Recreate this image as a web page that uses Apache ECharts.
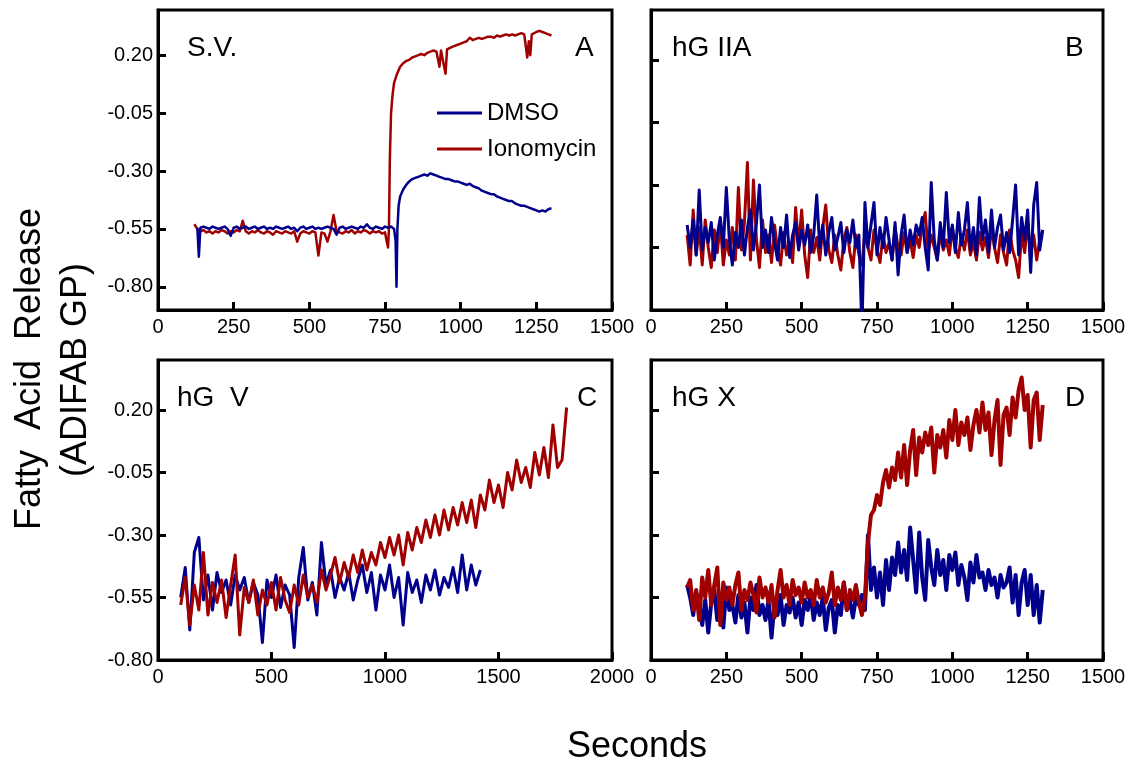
<!DOCTYPE html>
<html><head><meta charset="utf-8">
<script src="https://cdn.jsdelivr.net/npm/echarts@6/dist/echarts.min.js"></script>
<style>html,body{margin:0;padding:0;background:#fff}#c{width:1139px;height:770px}</style>
</head><body><div id="c"></div>
<script>
// ---------- DATA ----------
const yTicks = [-0.80, -0.55, -0.30, -0.05, 0.20];

// Panel A (S.V.)
const timeA_iono = [
120,130,140,150,160,170,180,190,200,210,
220,230,240,250,260,270,280,290,300,310,
320,330,340,350,360,370,380,390,400,410,
420,430,440,450,460,470,480,490,500,510,
520,530,540,550,560,570,580,590,600,610,
620,630,640,650,660,670,680,690,700,710,
720,730,740,750,755,760,763,766,770,775,
780,790,800,810,820,830,840,850,860,870,
880,890,900,910,920,930,935,940,950,955,
960,970,980,990,1000,1010,1020,1030,1040,1050,
1060,1070,1080,1090,1100,1110,1120,1130,1140,1150,
1160,1170,1180,1190,1200,1210,1220,1225,1230,1235,
1240,1250,1260,1270,1280,1290,1300];
const ionoA = [
-0.53,-0.55,-0.56,-0.555,-0.565,-0.56,-0.57,-0.56,-0.565,-0.555,
-0.56,-0.57,-0.56,-0.565,-0.555,-0.56,-0.515,-0.56,-0.57,-0.56,
-0.565,-0.555,-0.565,-0.57,-0.56,-0.565,-0.575,-0.56,-0.565,-0.57,
-0.56,-0.565,-0.57,-0.56,-0.605,-0.57,-0.56,-0.565,-0.57,-0.56,
-0.565,-0.665,-0.565,-0.57,-0.605,-0.56,-0.49,-0.56,-0.565,-0.57,
-0.56,-0.565,-0.555,-0.57,-0.56,-0.565,-0.555,-0.56,-0.57,-0.56,
-0.565,-0.56,-0.57,-0.565,-0.60,-0.63,-0.55,-0.25,-0.05,0.03,
0.08,0.12,0.15,0.165,0.175,0.18,0.19,0.195,0.20,0.205,
0.20,0.21,0.215,0.22,0.215,0.15,0.22,0.225,0.12,0.225,
0.23,0.235,0.24,0.245,0.25,0.255,0.26,0.275,0.265,0.27,
0.275,0.27,0.275,0.28,0.28,0.275,0.285,0.28,0.285,0.29,
0.285,0.29,0.285,0.29,0.295,0.29,0.19,0.26,0.20,0.29,
0.295,0.30,0.305,0.30,0.295,0.29,0.285];
const timeA_dmso = [
130,135,140,150,160,170,180,190,200,210,
220,230,240,250,260,270,280,290,300,310,
320,330,340,350,360,370,380,390,400,410,
420,430,440,450,460,470,480,490,500,510,
520,530,540,550,560,570,580,590,600,610,
620,630,640,650,660,670,680,690,700,710,
720,730,740,750,760,770,780,785,788,791,
795,800,810,820,830,840,850,860,870,880,
890,900,910,920,930,940,950,960,970,980,
990,1000,1010,1020,1030,1040,1050,1060,1070,1080,
1090,1100,1110,1120,1130,1140,1150,1160,1170,1180,
1190,1200,1210,1220,1230,1240,1250,1260,1270,1280,
1290,1300];
const dmsoA = [
-0.545,-0.67,-0.545,-0.54,-0.545,-0.55,-0.54,-0.545,-0.55,-0.545,
-0.54,-0.55,-0.58,-0.545,-0.54,-0.55,-0.545,-0.54,-0.55,-0.545,
-0.54,-0.55,-0.545,-0.54,-0.55,-0.545,-0.55,-0.54,-0.545,-0.55,
-0.545,-0.54,-0.55,-0.545,-0.56,-0.545,-0.54,-0.55,-0.545,-0.54,
-0.55,-0.545,-0.55,-0.545,-0.54,-0.545,-0.55,-0.575,-0.545,-0.54,
-0.55,-0.545,-0.54,-0.545,-0.55,-0.54,-0.545,-0.53,-0.545,-0.55,
-0.54,-0.545,-0.55,-0.54,-0.545,-0.54,-0.55,-0.60,-0.80,-0.55,
-0.45,-0.41,-0.38,-0.36,-0.345,-0.335,-0.33,-0.325,-0.32,-0.315,
-0.32,-0.31,-0.315,-0.32,-0.325,-0.33,-0.335,-0.335,-0.34,-0.345,
-0.345,-0.35,-0.355,-0.36,-0.355,-0.365,-0.37,-0.375,-0.385,-0.39,
-0.395,-0.40,-0.40,-0.41,-0.415,-0.42,-0.425,-0.43,-0.43,-0.44,
-0.445,-0.45,-0.45,-0.455,-0.46,-0.465,-0.47,-0.475,-0.47,-0.475,
-0.465,-0.46];

// Panels B and D share the sampling times
const timeBD = [
120,130,140,150,160,170,180,190,200,210,
220,230,240,250,260,270,280,290,300,310,
320,330,340,350,360,370,380,390,400,410,
420,430,440,450,460,470,480,490,500,510,
520,530,540,550,560,570,580,590,600,610,
620,630,640,650,660,670,680,690,700,710,
720,730,740,750,760,770,780,790,800,810,
820,830,840,850,860,870,880,890,900,910,
920,930,940,950,960,970,980,990,1000,1010,
1020,1030,1040,1050,1060,1070,1080,1090,1100,1110,
1120,1130,1140,1150,1160,1170,1180,1190,1200,1210,
1220,1230,1240,1250,1260,1270,1280,1290,1300];

// Panel B (hG IIA)
const ionoB = [
-0.50,-0.62,-0.40,-0.58,-0.47,-0.62,-0.44,-0.55,-0.63,-0.48,
-0.57,-0.45,-0.62,-0.52,-0.58,-0.47,-0.60,-0.31,-0.56,-0.45,
-0.21,-0.60,-0.28,-0.52,-0.63,-0.44,-0.57,-0.50,-0.61,-0.46,
-0.56,-0.62,-0.49,-0.58,-0.53,-0.61,-0.39,-0.55,-0.40,-0.58,
-0.67,-0.48,-0.57,-0.51,-0.60,-0.47,-0.38,-0.56,-0.61,-0.50,
-0.58,-0.64,-0.52,-0.47,-0.57,-0.63,-0.50,-0.58,-0.62,-0.49,
-0.55,-0.60,-0.48,-0.56,-0.61,-0.50,-0.57,-0.53,-0.60,-0.47,
-0.55,-0.58,-0.49,-0.57,-0.52,-0.59,-0.50,-0.55,-0.46,-0.41,
-0.57,-0.50,-0.55,-0.60,-0.49,-0.56,-0.52,-0.58,-0.47,-0.55,
-0.59,-0.50,-0.56,-0.48,-0.58,-0.53,-0.60,-0.49,-0.56,-0.51,
-0.59,-0.47,-0.55,-0.61,-0.50,-0.57,-0.62,-0.48,-0.56,-0.60,
-0.67,-0.49,-0.57,-0.45,-0.58,-0.50,-0.60,-0.52,-0.48];
const dmsoB = [
-0.46,-0.55,-0.44,-0.58,-0.32,-0.56,-0.47,-0.53,-0.45,-0.60,
-0.50,-0.43,-0.55,-0.31,-0.52,-0.62,-0.49,-0.55,-0.44,-0.58,
-0.47,-0.40,-0.56,-0.45,-0.30,-0.55,-0.48,-0.57,-0.43,-0.53,
-0.60,-0.47,-0.55,-0.42,-0.59,-0.50,-0.45,-0.56,-0.48,-0.54,
-0.46,-0.57,-0.50,-0.34,-0.55,-0.46,-0.58,-0.49,-0.43,-0.56,
-0.51,-0.45,-0.57,-0.48,-0.53,-0.44,-0.55,-0.50,-0.88,-0.37,
-0.55,-0.46,-0.37,-0.58,-0.47,-0.55,-0.43,-0.52,-0.60,-0.45,
-0.66,-0.50,-0.42,-0.57,-0.48,-0.54,-0.46,-0.50,-0.43,-0.55,
-0.64,-0.29,-0.52,-0.60,-0.45,-0.55,-0.33,-0.53,-0.46,-0.57,
-0.41,-0.54,-0.48,-0.37,-0.56,-0.47,-0.58,-0.35,-0.52,-0.44,
-0.57,-0.40,-0.55,-0.47,-0.42,-0.56,-0.49,-0.57,-0.44,-0.30,
-0.58,-0.43,-0.52,-0.40,-0.65,-0.38,-0.29,-0.56,-0.48];

// Panel C (hG V)
const timeC = [
100,120,140,160,180,200,220,240,260,280,
300,320,340,360,380,400,420,440,460,480,
500,520,540,560,580,600,620,640,660,680,
700,720,740,760,780,800,820,840,860,880,
900,920,940,960,980,1000,1020,1040,1060,1080,
1100,1120,1140,1160,1180,1200,1220,1240,1260,1280,
1300,1320,1340,1360,1380,1400,1420,1440,1460,1480,
1500,1520,1540,1560,1580,1600,1620,1640,1660,1680,
1700,1720,1740,1760,1780,1800];
const ionoC = [
-0.58,-0.47,-0.66,-0.50,-0.60,-0.37,-0.62,-0.49,-0.57,-0.48,
-0.63,-0.50,-0.38,-0.70,-0.51,-0.57,-0.48,-0.62,-0.52,-0.58,
-0.49,-0.60,-0.47,-0.56,-0.61,-0.50,-0.58,-0.46,-0.55,-0.50,
-0.57,-0.44,-0.52,-0.46,-0.39,-0.49,-0.41,-0.47,-0.38,-0.45,
-0.36,-0.44,-0.37,-0.42,-0.33,-0.39,-0.31,-0.38,-0.30,-0.42,
-0.29,-0.36,-0.27,-0.33,-0.24,-0.31,-0.22,-0.30,-0.20,-0.28,
-0.19,-0.26,-0.17,-0.25,-0.16,-0.27,-0.14,-0.20,-0.08,-0.17,
-0.10,-0.19,-0.05,-0.12,0.00,-0.09,-0.03,-0.11,0.03,-0.06,
0.05,-0.07,0.14,-0.03,0.00,0.21];
const dmsoC = [
-0.55,-0.43,-0.68,-0.37,-0.31,-0.56,-0.46,-0.60,-0.45,-0.53,
-0.48,-0.58,-0.46,-0.52,-0.47,-0.57,-0.49,-0.54,-0.73,-0.48,
-0.55,-0.46,-0.59,-0.50,-0.54,-0.75,-0.47,-0.35,-0.56,-0.49,
-0.62,-0.33,-0.50,-0.44,-0.55,-0.47,-0.52,-0.45,-0.56,-0.48,
-0.42,-0.53,-0.45,-0.60,-0.46,-0.52,-0.42,-0.55,-0.47,-0.66,
-0.45,-0.53,-0.48,-0.57,-0.46,-0.52,-0.44,-0.54,-0.47,-0.51,
-0.43,-0.53,-0.38,-0.52,-0.42,-0.50,-0.44];

// Panel D (hG X)
const ionoD = [
-0.51,-0.48,-0.60,-0.52,-0.64,-0.47,-0.55,-0.44,-0.58,-0.50,
-0.43,-0.66,-0.49,-0.56,-0.51,-0.58,-0.50,-0.45,-0.60,-0.52,
-0.56,-0.49,-0.54,-0.61,-0.47,-0.55,-0.51,-0.57,-0.50,-0.63,
-0.52,-0.44,-0.55,-0.50,-0.58,-0.48,-0.54,-0.51,-0.57,-0.49,
-0.55,-0.52,-0.58,-0.48,-0.55,-0.51,-0.57,-0.53,-0.45,-0.58,
-0.51,-0.56,-0.49,-0.60,-0.52,-0.56,-0.50,-0.57,-0.62,-0.55,
-0.33,-0.22,-0.20,-0.14,-0.18,-0.09,-0.04,-0.11,-0.03,-0.08,
0.03,-0.07,0.06,-0.10,0.04,0.12,-0.06,0.09,0.03,0.11,
0.06,0.13,-0.05,0.10,0.05,0.12,0.01,0.16,0.08,0.20,
0.06,0.15,0.10,0.17,0.04,0.14,0.20,0.11,0.23,0.12,
0.19,0.02,0.16,0.24,-0.02,0.18,0.21,0.10,0.25,0.17,
0.28,0.33,0.20,0.26,0.05,0.24,0.27,0.08,0.22];
const dmsoD = [
-0.50,-0.55,-0.62,-0.53,-0.58,-0.66,-0.56,-0.69,-0.57,-0.52,
-0.64,-0.55,-0.67,-0.51,-0.60,-0.58,-0.65,-0.54,-0.63,-0.57,
-0.69,-0.55,-0.60,-0.50,-0.62,-0.58,-0.64,-0.56,-0.71,-0.57,
-0.62,-0.54,-0.66,-0.58,-0.61,-0.55,-0.63,-0.57,-0.66,-0.56,
-0.60,-0.54,-0.64,-0.57,-0.62,-0.55,-0.68,-0.59,-0.56,-0.69,
-0.58,-0.62,-0.49,-0.60,-0.56,-0.63,-0.55,-0.58,-0.54,-0.60,
-0.30,-0.52,-0.43,-0.55,-0.45,-0.58,-0.40,-0.52,-0.39,-0.46,
-0.33,-0.45,-0.36,-0.48,-0.27,-0.40,-0.53,-0.29,-0.47,-0.56,
-0.32,-0.43,-0.50,-0.36,-0.46,-0.40,-0.52,-0.38,-0.44,-0.37,
-0.50,-0.42,-0.47,-0.56,-0.41,-0.49,-0.38,-0.47,-0.45,-0.52,
-0.44,-0.50,-0.47,-0.55,-0.46,-0.51,-0.49,-0.43,-0.57,-0.46,
-0.62,-0.49,-0.44,-0.58,-0.46,-0.62,-0.50,-0.65,-0.52];

const xTicksMain = 250, xTicksC = 500;

// ---------- CHART ----------
const ff = "'Liberation Sans', Arial, sans-serif";
const RED = '#A00000', BLUE = '#00008C';
const pair = (t, v) => v.map((y, i) => [t[i], y]);

const grids = [
  {left: 158, top: 10, width: 454, height: 300},
  {left: 651, top: 10, width: 452, height: 300},
  {left: 158, top: 360, width: 454, height: 300},
  {left: 651, top: 360, width: 452, height: 300}
].map(g => Object.assign({show: true, borderColor: '#000', borderWidth: 3, backgroundColor: 'transparent'}, g));

function xAx(gi, max, interval) {
  return {type: 'value', gridIndex: gi, min: 0, max: max, interval: interval,
    axisLine: {show: true, onZero: false, lineStyle: {color: '#000', width: 3}},
    axisTick: {show: true, inside: true, length: 8, lineStyle: {color: '#000', width: 3}},
    axisLabel: {show: true, color: '#000', fontSize: 20, fontFamily: ff, margin: 7, showMinLabel: true, showMaxLabel: true,
      formatter: v => String(Math.round(v))},
    splitLine: {show: false}};
}
function yAx(gi, min, max, labels) {
  return {type: 'value', gridIndex: gi, min: min, max: max,
    axisLine: {show: true, onZero: false, lineStyle: {color: '#000', width: 3}},
    axisTick: {show: true, inside: true, length: 8, customValues: yTicks, lineStyle: {color: '#000', width: 3}},
    axisLabel: {show: labels, customValues: yTicks, color: '#000', fontSize: 20, fontFamily: ff, margin: 5,
      formatter: v => Number(v).toFixed(2)},
    splitLine: {show: false}};
}
function ser(name, gi, data, color, w) {
  return {type: 'line', name: name, xAxisIndex: gi, yAxisIndex: gi, data: data,
    symbol: 'none', showSymbol: false, clip: true,
    itemStyle: {color: color}, lineStyle: {color: color, width: w, join: 'round'}};
}
function txt(t, x, y, size, rot, align) {
  return {type: 'text', x: x, y: y, rotation: rot || 0,
    style: {text: t, fill: '#000', fontSize: size, fontFamily: ff,
      align: align || 'left', verticalAlign: 'middle'}};
}

const chart = echarts.init(document.getElementById('c'), null, {renderer: 'canvas'});
chart.setOption({
  animation: false,
  backgroundColor: '#fff',
  grid: grids,
  xAxis: [xAx(0, 1500, xTicksMain), xAx(1, 1500, xTicksMain), xAx(2, 2000, xTicksC), xAx(3, 1500, xTicksMain)],
  yAxis: [yAx(0, -0.9, 0.395, true), yAx(1, -0.8, 0.4, false), yAx(2, -0.8, 0.4, true), yAx(3, -0.8, 0.4, false)],
  legend: {show: true, orient: 'vertical', left: 432, top: 96, itemWidth: 45, itemHeight: 3, itemGap: 12,
    icon: 'rect', data: ['DMSO', 'Ionomycin'], selectedMode: false,
    textStyle: {fontSize: 24, fontFamily: ff, color: '#000', lineHeight: 24}},
  series: [
    ser('Ionomycin', 0, pair(timeA_iono, ionoA), RED, 2.5),
    ser('DMSO', 0, pair(timeA_dmso, dmsoA), BLUE, 2.5),
    ser('Ionomycin', 1, pair(timeBD, ionoB), RED, 3),
    ser('DMSO', 1, pair(timeBD, dmsoB), BLUE, 3),
    ser('DMSO', 2, pair(timeC, dmsoC), BLUE, 3),
    ser('Ionomycin', 2, pair(timeC, ionoC), RED, 3),
    ser('DMSO', 3, pair(timeBD, dmsoD), BLUE, 4),
    ser('Ionomycin', 3, pair(timeBD, ionoD), RED, 4)
  ],
  graphic: {elements: [
    txt('S.V.', 187, 48, 28), txt('A', 575, 48, 28),
    txt('hG IIA', 672, 48, 28), txt('B', 1065, 48, 28),
    txt('hG  V', 177, 398, 28), txt('C', 577, 398, 28),
    txt('hG X', 672, 398, 28), txt('D', 1065, 398, 28),
    txt('Fatty  Acid  Release', 30, 369, 36, Math.PI / 2, 'center'),
    txt('(ADIFAB GP)', 76, 370, 36, Math.PI / 2, 'center'),
    txt('Seconds', 637, 747, 36, 0, 'center')
  ]}
});
</script></body></html>
